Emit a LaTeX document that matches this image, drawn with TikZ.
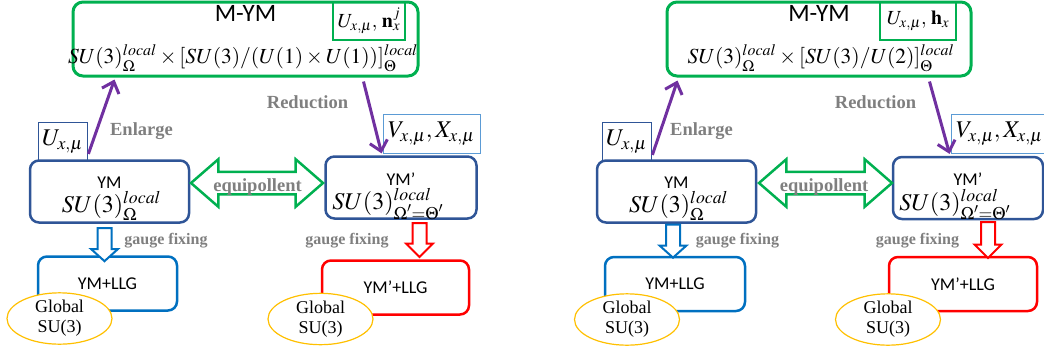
\documentclass[tikz,border=0pt]{standalone}
\usepackage{amsmath}
\usepackage{mathptmx}
\usepackage{fontspec}
\setmainfont{Liberation Serif}
\newfontfamily\calibri{Carlito}
\usepackage{tikz}
\usetikzlibrary{calc, positioning, shapes.geometric, shapes.arrows, arrows.meta}
\definecolor{mgreen}{RGB}{0,176,80}
\definecolor{ymblue}{RGB}{47,85,151}
\definecolor{llgblue}{RGB}{0,112,192}
\definecolor{mpurple}{RGB}{112,48,160}
\definecolor{gold}{RGB}{255,192,0}
\definecolor{lblue}{RGB}{91,155,213}
\definecolor{labgray}{RGB}{127,127,127}
\newcommand{\fsz}[1]{\fontsize{#1pt}{#1pt}\selectfont}
\newcommand{\dn}[1]{\raisebox{-3pt}{$\scriptstyle #1$}}
\tikzset{
    mymnode/.style = {draw=mgreen, rectangle, rounded corners=10pt, line width=3pt, minimum height=74pt},
    titlenode/.style = {draw=none, inner sep=0pt, font=\calibri\fsz{25}},
    topmath/.style = {draw=none, inner sep=0pt, font=\fsz{21.5}},
    fieldnode/.style = {draw=mgreen, rectangle, line width=2pt, inner sep=0pt, minimum height=38pt, font=\fsz{20}},
    varnode/.style = {rectangle, line width=0.8pt, inner sep=1pt, minimum height=39pt, font=\fsz{24}},
    ymnode/.style = {draw=ymblue, rectangle, rounded corners=9pt, line width=2.5pt, minimum height=62pt},
    ymtext/.style = {draw=none, inner sep=0pt, font=\calibri\fsz{18}},
    ymmath/.style = {draw=none, inner sep=0pt, font=\fsz{24}},
    llgnode/.style = {rectangle, rounded corners=9pt, line width=2.5pt, minimum height=54pt, font=\calibri\fsz{18}},
    globnode/.style = {draw=gold, ellipse, fill=white, line width=1.2pt, minimum width=105pt, minimum height=47pt,
      inner sep=0pt, align=center, font=\fontsize{18pt}{20pt}\selectfont},
    textnode/.style = {draw=none, inner sep=0pt, text=labgray, font=\bfseries\fsz{18.5}},
    gaugenode/.style = {draw=none, inner sep=0pt, text=labgray, font=\bfseries\fsz{16}},
    connect/.style = {mpurple, line width=3pt, -{Straight Barb[length=10pt, width=18pt]}},
    fixarrow/.style = {single arrow, shape border rotate=270, fill=white, line width=2pt, inner sep=0pt,
      inner xsep=6pt, single arrow head extend=6.5pt, minimum height=33pt, single arrow tip angle=96},
    eqarrow/.style = {double arrow, draw=mgreen, fill=white, line width=2.5pt, inner sep=0pt, inner ysep=10pt,
      double arrow head extend=12.5pt, double arrow tip angle=82, minimum height=132pt}
}
\begin{document}
\begin{tikzpicture}[x=1pt, y=-1pt]
    \useasboundingbox (0,0) rectangle (1044,349);

    \node [name = MYMa, mymnode, minimum width=345pt] at (245.5,39) {};
    \node [name = MYMta, titlenode, below=5pt of MYMa.north] {M-YM};
    \node [name = MYMfa, topmath, anchor=base] at (243,63)
        {$SU(3)^{local}_{\dn{\Omega}}\times[SU(3)/(U(1)\times U(1))]^{local}_{\dn{\Theta}}$};
    \node [name = Una, fieldnode, minimum width=72pt] at (369,21) {$U_{x,\mu},\,\mathbf{n}^j_x$};
    \node [name = Uxa, varnode, draw=ymblue, minimum width=49pt] at (62.5,142) {$U_{x,\mu}$};
    \node [name = VXa, varnode, draw=lblue, minimum width=97pt] at (431.5,133.5) {$V_{x,\mu},X_{x,\mu}$};
    \node [name = YMa, ymnode, minimum width=159pt] at (109.5,191.5) {};
    \node [name = YMta, ymtext, below=17pt of YMa.north] {YM};
    \node [name = YMfa, ymmath, anchor=base] at ($(YMa.center)+(2,20.5)$) {$SU(3)^{local}_{\dn{\Omega}}$};
    \node [name = YMpa, ymnode, minimum width=151pt] at (401,187.5) {};
    \node [name = YMpta, ymtext, below=17pt of YMpa.north] {YM’};
    \node [name = YMpfa, ymmath, anchor=base] at ($(YMpa.center)+(-13,22)$) {$SU(3)^{local}_{\dn{\Omega'=\Theta'}}$};
    \node [name = LLGa, llgnode, draw=llgblue, minimum width=139pt] at (107.5,283.5) {YM+LLG};
    \node [name = LLGpa, llgnode, draw=red, minimum width=147pt] at (395.5,287.5) {YM’+LLG};
    \node [name = Ga, globnode] at (59.5,318.5) {Global\\SU(3)};
    \node [name = Gpa, globnode] at (320.5,319) {Global\\SU(3)};
    \node [name = EQa, eqarrow] at (257,183) {};
    \node [name = EQta, textnode, anchor=base] at (257.5,191) {equipollent};
    \node [name = GFa, fixarrow, draw=llgblue] at (104.5,241.5) {};
    \node [name = GFpa, fixarrow, draw=red, minimum height=34pt, single arrow tip angle=90] at (419.5,236.5) {};
    \node [name = GFta, gaugenode, anchor=base] at (166,244) {gauge fixing};
    \node [name = GFpta, gaugenode, anchor=base] at (347,244) {gauge fixing};
    \node [name = ENa, textnode, anchor=base] at (141.5,135) {Enlarge};
    \node [name = REa, textnode, anchor=base] at (307.5,108) {Reduction};
    \draw [connect] ($(Uxa.south east)+(1,-8)$) -- ($(MYMa.south west)+(43,2)$);
    \draw [connect] ($(MYMa.south east)+(-56,4)$) -- ($(VXa.south west)+(-1,0)$);

    \node [name = MYMb, mymnode, minimum width=304pt] at (819,39) {};
    \node [name = MYMtb, titlenode, below=5pt of MYMb.north] {M-YM};
    \node [name = MYMfb, topmath, anchor=base] at (821,63)
        {$SU(3)^{local}_{\dn{\Omega}}\times[SU(3)/U(2)]^{local}_{\dn{\Theta}}$};
    \node [name = Unb, fieldnode, minimum width=76pt] at (918,21) {$U_{x,\mu},\,\mathbf{h}_x$};
    \node [name = Uxb, varnode, draw=ymblue, minimum width=49pt] at (626.5,142) {$U_{x,\mu}$};
    \node [name = VXb, varnode, draw=lblue, minimum width=97pt] at (999.5,134) {$V_{x,\mu},X_{x,\mu}$};
    \node [name = YMb, ymnode, minimum width=159pt] at (676.5,191.5) {};
    \node [name = YMtb, ymtext, below=17pt of YMb.north] {YM};
    \node [name = YMfb, ymmath, anchor=base] at ($(YMb.center)+(2,20.5)$) {$SU(3)^{local}_{\dn{\Omega}}$};
    \node [name = YMpb, ymnode, minimum width=150pt] at (968,188) {};
    \node [name = YMptb, ymtext, below=17pt of YMpb.north] {YM’};
    \node [name = YMpfb, ymmath, anchor=base] at ($(YMpb.center)+(-13,22)$) {$SU(3)^{local}_{\dn{\Omega'=\Theta'}}$};
    \node [name = LLGb, llgnode, draw=llgblue, minimum width=140pt] at (675,284) {YM+LLG};
    \node [name = LLGpb, llgnode, draw=red, minimum width=148pt] at (963,284) {YM’+LLG};
    \node [name = Gb, globnode] at (627,319.5) {Global\\SU(3)};
    \node [name = Gpb, globnode] at (888,319.5) {Global\\SU(3)};
    \node [name = EQb, eqarrow, minimum height=133pt] at (825.5,183) {};
    \node [name = EQtb, textnode, anchor=base] at (824,191) {equipollent};
    \node [name = GFb, fixarrow, draw=llgblue] at (673,238) {};
    \node [name = GFpb, fixarrow, draw=red, minimum height=36pt, single arrow tip angle=90] at (988,236.5) {};
    \node [name = GFtb, gaugenode, anchor=base] at (737.5,244) {gauge fixing};
    \node [name = GFptb, gaugenode, anchor=base] at (917.5,244) {gauge fixing};
    \node [name = ENb, textnode, anchor=base] at (701.5,135) {Enlarge};
    \node [name = REb, textnode, anchor=base] at (875.5,108) {Reduction};
    \draw [connect] ($(Uxb.south east)+(1,-7)$) -- ($(MYMb.south west)+(12,3)$);
    \draw [connect] ($(MYMb.south east)+(-43,4)$) -- ($(VXb.south west)+(-1,0)$);
\end{tikzpicture}
\end{document}
